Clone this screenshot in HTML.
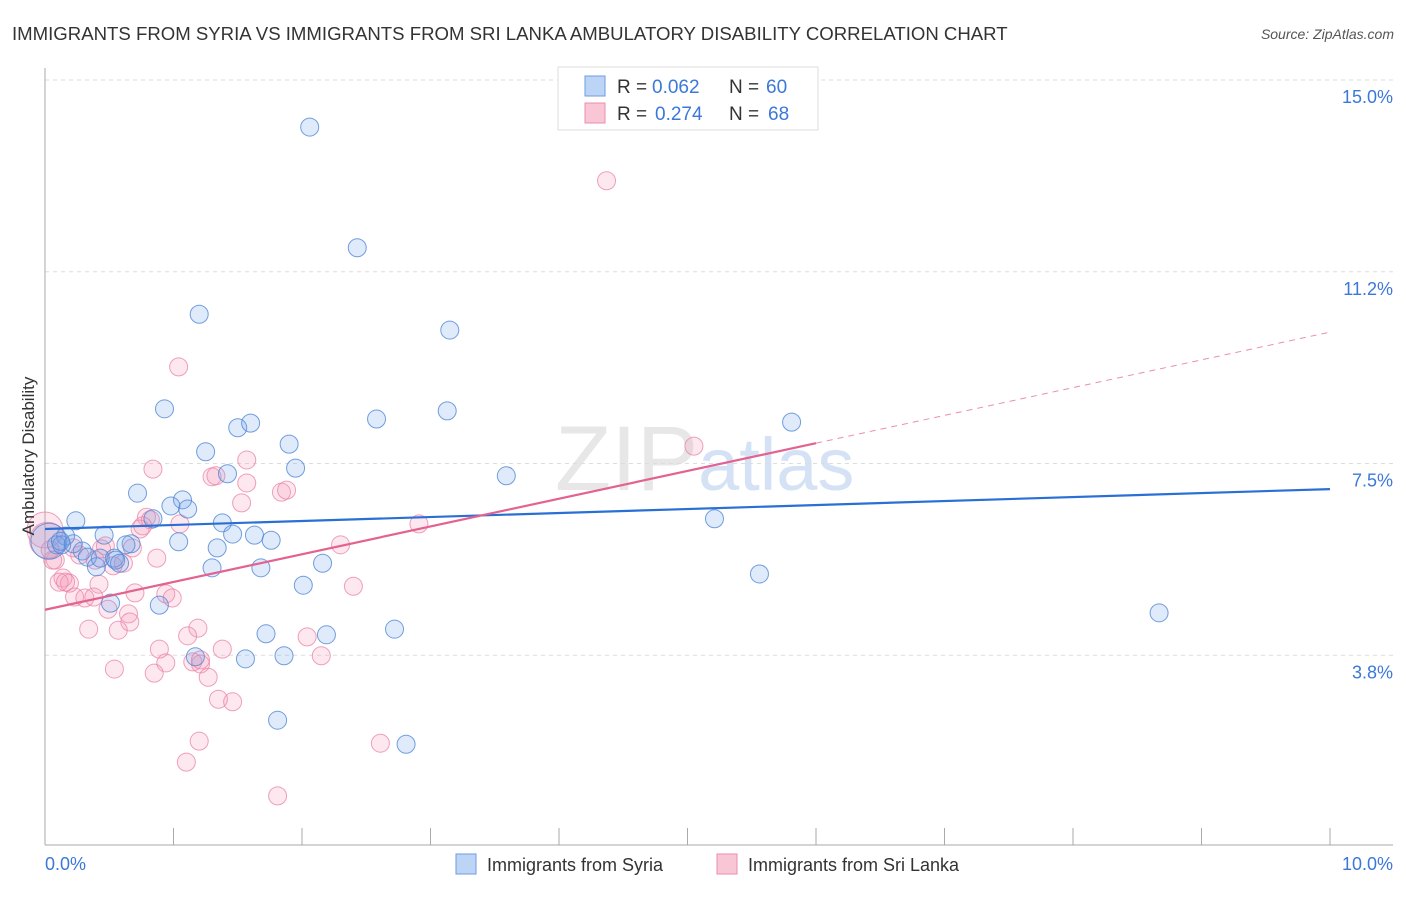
<!DOCTYPE html>
<html><head><meta charset="utf-8"><style>
body{margin:0;background:#fff;font-family:"Liberation Sans",sans-serif}
svg text{font-family:"Liberation Sans",sans-serif}
</style></head><body>
<svg id="chart" width="1406" height="892">
<text x="12" y="40" font-size="18.6" fill="#333">IMMIGRANTS FROM SYRIA VS IMMIGRANTS FROM SRI LANKA AMBULATORY DISABILITY CORRELATION CHART</text>
<text x="1394" y="39" font-size="14" fill="#555" font-style="italic" text-anchor="end">Source: ZipAtlas.com</text>
<text x="555" y="490" font-size="92" fill="#ddd" opacity="0.7" font-family="Liberation Serif">ZIP<tspan fill="#c4d7f2" font-family="Liberation Sans" font-size="74">atlas</tspan></text>
<g id="grid"></g><g id="axes"></g><g id="pts"></g><g id="trend"></g>
<text transform="translate(34,456) rotate(-90)" font-size="17" fill="#333" text-anchor="middle">Ambulatory Disability</text>
<g>
<rect x="558" y="67" width="260" height="63" fill="#fff" stroke="#ddd"/>
<rect x="585" y="76" width="20" height="20" fill="#bcd4f5" stroke="#6f9be0"/>
<rect x="585" y="103" width="20" height="20" fill="#f9c6d6" stroke="#e98fae"/>
<text x="617" y="93" font-size="19" fill="#333">R =</text>
<text x="652" y="93" font-size="19" fill="#3b78d8">0.062</text>
<text x="729" y="93" font-size="19" fill="#333">N =</text>
<text x="766" y="93" font-size="19" fill="#3b78d8">60</text>
<text x="617" y="120" font-size="19" fill="#333">R =</text>
<text x="655" y="120" font-size="19" fill="#3b78d8">0.274</text>
<text x="729" y="120" font-size="19" fill="#333">N =</text>
<text x="768" y="120" font-size="19" fill="#3b78d8">68</text>
</g>
<g>
<rect x="456" y="854" width="20" height="20" fill="#bcd4f5" stroke="#6f9be0"/>
<text x="487" y="871" font-size="18" fill="#333">Immigrants from Syria</text>
<rect x="717" y="854" width="20" height="20" fill="#f9c6d6" stroke="#e98fae"/>
<text x="748" y="871" font-size="18" fill="#333">Immigrants from Sri Lanka</text>
</g>
</svg>
<script>
const syriaX=[2.06,2.43,1.20,3.15,0.93,2.58,3.13,1.50,1.60,1.25,1.90,1.95,1.42,5.81,3.59,0.72,1.07,0.98,1.11,0.84,0.24,1.38,5.21,1.46,1.63,1.76,1.04,1.34,0.46,0.16,0.09,0.03,0.29,0.54,0.58,0.33,0.40,0.67,0.63,0.43,1.30,1.68,2.16,5.56,2.01,0.51,0.89,8.67,2.72,1.72,2.19,1.17,1.56,1.86,1.81,2.81,0.13,0.12,0.22,0.55];
const syriaY=[14.08,11.72,10.42,10.11,8.57,8.37,8.53,8.20,8.29,7.73,7.88,7.41,7.30,8.31,7.26,6.92,6.79,6.67,6.61,6.42,6.38,6.34,6.42,6.12,6.10,6.00,5.97,5.85,6.10,6.08,5.91,5.98,5.79,5.65,5.55,5.67,5.48,5.93,5.91,5.65,5.46,5.46,5.55,5.34,5.12,4.77,4.73,4.58,4.26,4.17,4.15,3.72,3.68,3.74,2.48,2.01,5.91,5.98,5.93,5.61];
const lankaX=[4.37,1.04,5.05,0.84,1.57,1.30,1.33,1.84,1.88,1.57,1.53,0.79,0.82,1.05,0.76,0.74,2.91,2.30,0.47,0.44,0.68,0.22,0.87,0.61,0.53,0.08,0.00,0.02,0.14,0.19,0.11,0.16,0.42,2.40,0.23,0.31,0.38,0.70,0.94,0.99,0.49,0.65,0.66,0.34,0.57,1.19,1.11,2.04,2.15,1.38,0.89,1.15,0.94,1.21,1.27,0.85,0.54,1.35,1.46,1.20,1.10,2.61,1.81,0.04,0.06,0.27,0.39,1.21];
const lankaY=[13.03,9.39,7.84,7.39,7.57,7.24,7.26,6.94,6.98,7.12,6.73,6.45,6.40,6.32,6.28,6.22,6.32,5.91,5.89,5.83,5.85,5.85,5.65,5.55,5.50,5.61,6.20,6.00,5.26,5.16,5.18,5.18,5.14,5.10,4.89,4.87,4.89,4.97,4.95,4.87,4.65,4.56,4.40,4.26,4.24,4.28,4.13,4.11,3.74,3.87,3.87,3.62,3.60,3.58,3.32,3.40,3.48,2.89,2.84,2.07,1.66,2.03,1.00,5.81,5.61,5.71,5.61,3.66];
const yTicks=[15,11.25,7.5,3.75];
const yTickLabels=["15.0%","11.2%","7.5%","3.8%"];
const xTickLabels=["0.0%","10.0%"];
const syriaTrend=[6.22,7.0];
const lankaTrend=[4.64,10.07];
const lankaSolidEnd=6.0;
const NS="http://www.w3.org/2000/svg";
const X0=45,X1=1330,Y0=847,PXY=51.13;
function sx(v){return X0+(X1-X0)*v/10;}
function sy(v){return Y0-v*PXY;}
function mk(t,a,p){const e=document.createElementNS(NS,t);for(const k in a)e.setAttribute(k,a[k]);p.appendChild(e);return e;}
const grid=document.getElementById('grid'),axes=document.getElementById('axes'),pts=document.getElementById('pts'),tr=document.getElementById('trend');
yTicks.forEach((v,i)=>{
 const l=mk('line',{x1:45,x2:1393,y1:sy(v),y2:sy(v),stroke:'#ddd','stroke-dasharray':'4,4'},grid);
 
 
 const t=mk('text',{x:1393,y:sy(v)+23,'font-size':18,fill:'#3b78d8','text-anchor':'end'},grid);
 t.textContent=yTickLabels[i];
 
 
});
const ax=mk('line',{x1:45,x2:45,y1:68,y2:845,stroke:'#aaa'},axes);


const bx=mk('line',{x1:45,x2:1393,y1:845,y2:845,stroke:'#aaa'},axes);


for(let k=1;k<=10;k++){
 const tk=mk('line',{x1:sx(k),x2:sx(k),y1:828,y2:845,stroke:'#aaa'},axes);
 
 
}
[[0,'start',45],[10,'end',1393]].forEach((d,i)=>{
 const t=mk('text',{x:d[2],y:870,'font-size':18,fill:'#3b78d8','text-anchor':d[1]},axes);
 t.textContent=xTickLabels[i];
 
 
});
function dots(xs,ys,fill,stroke,name){
 xs.forEach((x,i)=>{
  const big=(x<0.05&&ys[i]>5.9);
  const c=mk('circle',{cx:sx(x),cy:sy(ys[i]),r:big?18:9,fill:fill,stroke:stroke,'stroke-width':1},pts);
  
  
 });
}
dots(lankaX,lankaY,'rgba(244,150,180,0.22)','rgba(233,130,165,0.75)','point-sri-lanka');
dots(syriaX,syriaY,'rgba(110,160,230,0.22)','rgba(80,135,215,0.8)','point-syria');
const bl=mk('line',{x1:sx(0),y1:sy(syriaTrend[0]),x2:sx(10),y2:sy(syriaTrend[1]),stroke:'#2a6fd6','stroke-width':2.2},tr);


const ly=v=>lankaTrend[0]+(lankaTrend[1]-lankaTrend[0])*v/10;
const pl=mk('line',{x1:sx(0),y1:sy(ly(0)),x2:sx(lankaSolidEnd),y2:sy(ly(lankaSolidEnd)),stroke:'#e3628f','stroke-width':2.2},tr);


const pd=mk('line',{x1:sx(lankaSolidEnd),y1:sy(ly(lankaSolidEnd)),x2:sx(10),y2:sy(ly(10)),stroke:'#e98fae','stroke-width':1,'stroke-dasharray':'6,5'},tr);


</script>
</body></html>
